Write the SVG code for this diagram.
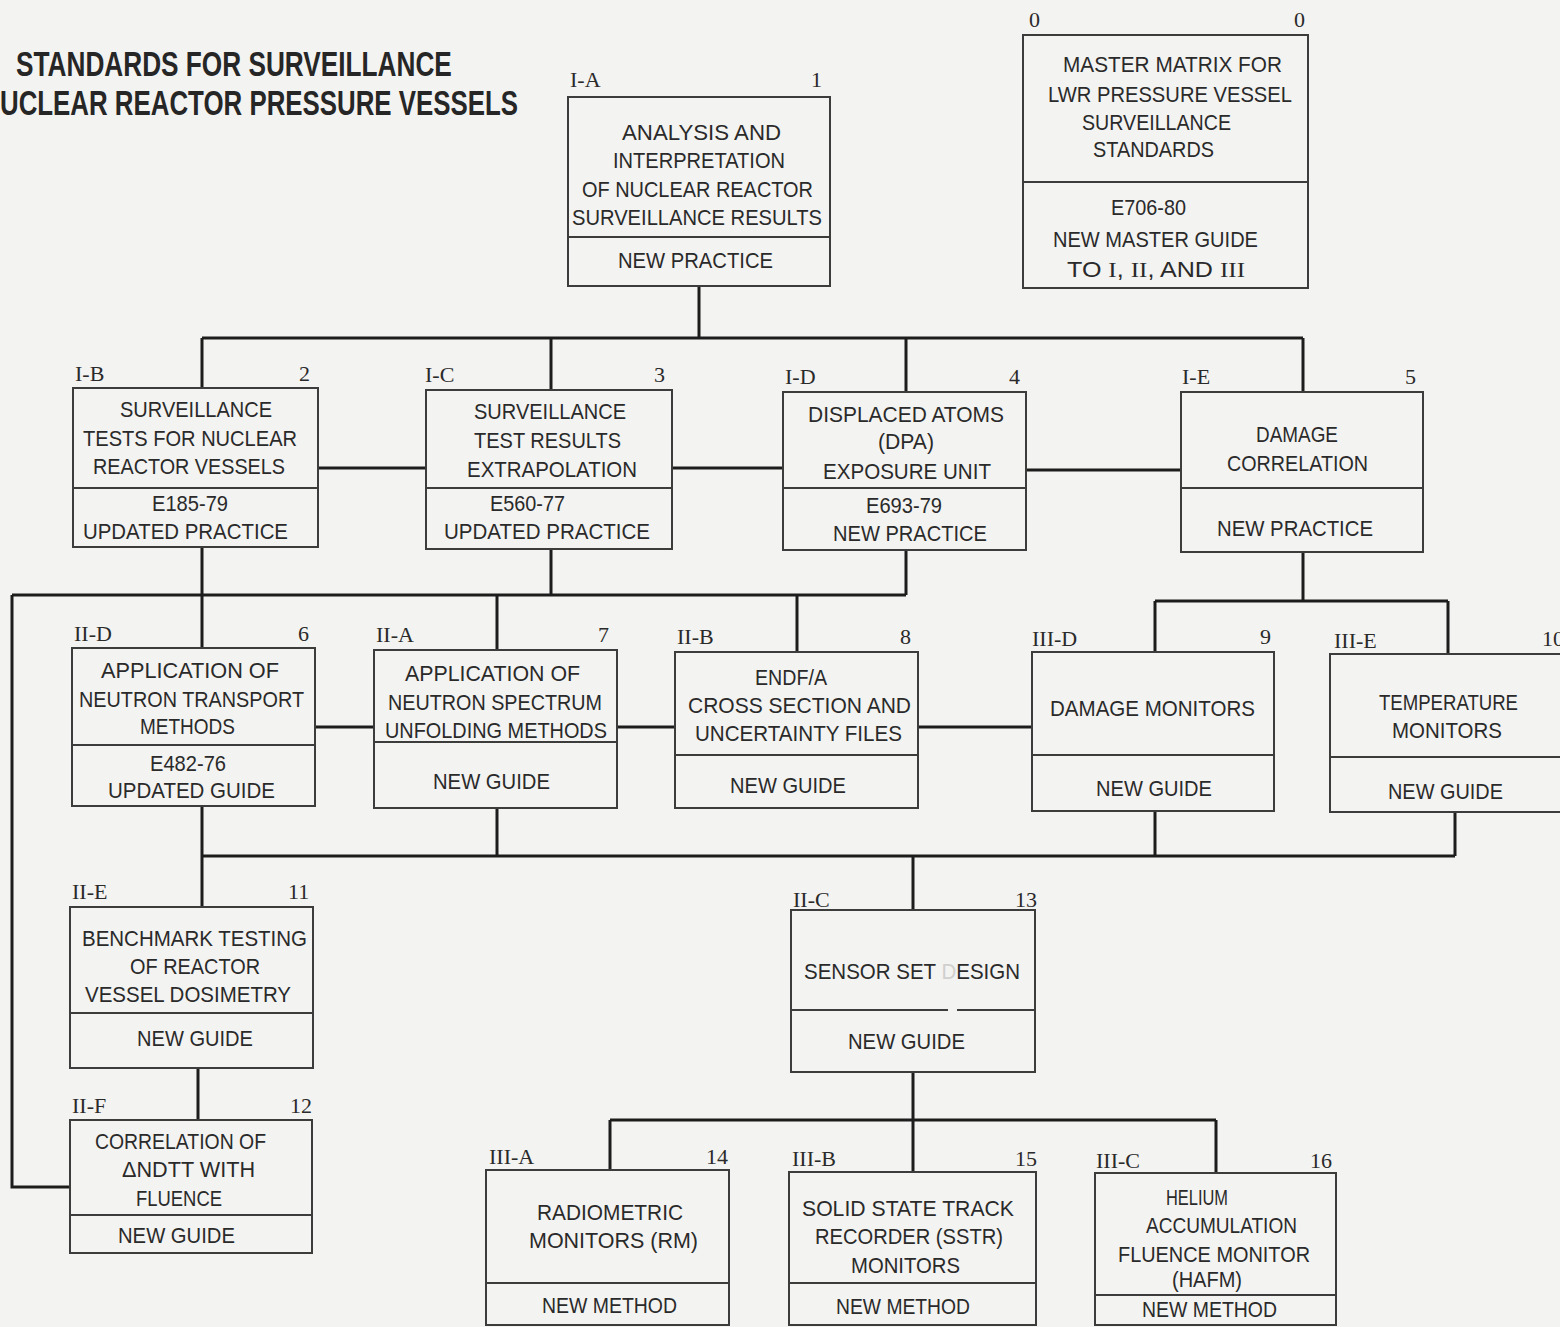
<svg xmlns="http://www.w3.org/2000/svg" width="1560" height="1327" viewBox="0 0 1560 1327">
<style>
.bg{fill:#f3f3f1}
.box{fill:none;stroke:#3c3c3c;stroke-width:2}
.conn{fill:none;stroke:#1c1c1c;stroke-width:3}
.t{font-family:"Liberation Sans",Arial,sans-serif;font-size:22px;fill:#2a2a2a}
.l{font-family:"Liberation Serif","Times New Roman",serif;font-size:22px;fill:#2a2a2a}
.ttl{font-family:"Liberation Sans",Arial,sans-serif;font-size:35px;font-weight:bold;fill:#262626}
</style>
<rect class="bg" x="0" y="0" width="1560" height="1327"/>

<g id="title">
<text class="ttl" transform="scale(0.74,1)" x="21.6" y="76" textLength="589" lengthAdjust="spacingAndGlyphs">STANDARDS FOR SURVEILLANCE</text>
<text class="ttl" transform="scale(0.74,1)" x="0" y="115" textLength="700" lengthAdjust="spacingAndGlyphs">UCLEAR REACTOR PRESSURE VESSELS</text>
</g>

<g id="connectors">
<path class="conn" d="M699,286 V338 M202,338 H1303 M202,338 V388 M551,338 V390 M906,338 V392 M1303,338 V392"/>
<path class="conn" d="M318,468 H426 M672,468 H783 M1026,470 H1181"/>
<path class="conn" d="M202,547 V648 M12,595 H906 M906,550 V595 M551,549 V595 M497,595 V650 M797,595 V652 M12,595 V1187 H70"/>
<path class="conn" d="M1303,552 V601 M1155,601 H1448 M1155,601 V652 M1448,601 V654"/>
<path class="conn" d="M315,727 H374 M617,727 H675 M918,727 H1032"/>
<path class="conn" d="M202,806 V907 M202,856 H1455 M497,808 V856 M1155,811 V856 M1455,812 V856 M913,856 V910"/>
<path class="conn" d="M198,1068 V1120 M913,1072 V1120 M610,1120 H1216 M610,1120 V1170 M913,1120 V1172 M1216,1120 V1173"/>
</g>

<g id="node-0">
<rect class="box" x="1023" y="35" width="285" height="253"/>
<line class="box" x1="1023" y1="182" x2="1308" y2="182"/>
<text class="l" x="1029" y="27">0</text>
<text class="l" x="1294" y="27">0</text>
<text class="t" x="1063" y="72" textLength="219" lengthAdjust="spacingAndGlyphs">MASTER MATRIX FOR</text>
<text class="t" x="1048" y="102" textLength="244" lengthAdjust="spacingAndGlyphs">LWR PRESSURE VESSEL</text>
<text class="t" x="1082" y="130" textLength="149" lengthAdjust="spacingAndGlyphs">SURVEILLANCE</text>
<text class="t" x="1093" y="157" textLength="121" lengthAdjust="spacingAndGlyphs">STANDARDS</text>
<text class="t" x="1111" y="215" textLength="75" lengthAdjust="spacingAndGlyphs">E706-80</text>
<text class="t" x="1053" y="247" textLength="205" lengthAdjust="spacingAndGlyphs">NEW MASTER GUIDE</text>
<text class="t" x="1067" y="277" textLength="178" lengthAdjust="spacingAndGlyphs">TO <tspan class="l">I</tspan>, <tspan class="l">II</tspan>, AND <tspan class="l">III</tspan></text>
</g>

<g id="node-1">
<rect class="box" x="568" y="97" width="262" height="189"/>
<line class="box" x1="568" y1="237" x2="830" y2="237"/>
<text class="l" x="570" y="87">I-A</text>
<text class="l" x="811" y="87">1</text>
<text class="t" x="622" y="140" textLength="159" lengthAdjust="spacingAndGlyphs">ANALYSIS AND</text>
<text class="t" x="613" y="168" textLength="172" lengthAdjust="spacingAndGlyphs">INTERPRETATION</text>
<text class="t" x="582" y="197" textLength="231" lengthAdjust="spacingAndGlyphs">OF NUCLEAR REACTOR</text>
<text class="t" x="572" y="225" textLength="250" lengthAdjust="spacingAndGlyphs">SURVEILLANCE RESULTS</text>
<text class="t" x="618" y="268" textLength="155" lengthAdjust="spacingAndGlyphs">NEW PRACTICE</text>
</g>

<g id="node-2">
<rect class="box" x="73" y="388" width="245" height="159"/>
<line class="box" x1="73" y1="488" x2="318" y2="488"/>
<text class="l" x="75" y="381">I-B</text>
<text class="l" x="299" y="381">2</text>
<text class="t" x="120" y="417" textLength="152" lengthAdjust="spacingAndGlyphs">SURVEILLANCE</text>
<text class="t" x="83" y="446" textLength="214" lengthAdjust="spacingAndGlyphs">TESTS FOR NUCLEAR</text>
<text class="t" x="93" y="474" textLength="192" lengthAdjust="spacingAndGlyphs">REACTOR VESSELS</text>
<text class="t" x="152" y="511" textLength="76" lengthAdjust="spacingAndGlyphs">E185-79</text>
<text class="t" x="83" y="539" textLength="205" lengthAdjust="spacingAndGlyphs">UPDATED PRACTICE</text>
</g>

<g id="node-3">
<rect class="box" x="426" y="390" width="246" height="159"/>
<line class="box" x1="426" y1="488" x2="672" y2="488"/>
<text class="l" x="425" y="382">I-C</text>
<text class="l" x="654" y="382">3</text>
<text class="t" x="474" y="419" textLength="152" lengthAdjust="spacingAndGlyphs">SURVEILLANCE</text>
<text class="t" x="474" y="448" textLength="147" lengthAdjust="spacingAndGlyphs">TEST RESULTS</text>
<text class="t" x="467" y="477" textLength="170" lengthAdjust="spacingAndGlyphs">EXTRAPOLATION</text>
<text class="t" x="490" y="511" textLength="75" lengthAdjust="spacingAndGlyphs">E560-77</text>
<text class="t" x="444" y="539" textLength="206" lengthAdjust="spacingAndGlyphs">UPDATED PRACTICE</text>
</g>

<g id="node-4">
<rect class="box" x="783" y="392" width="243" height="158"/>
<line class="box" x1="783" y1="488" x2="1026" y2="488"/>
<text class="l" x="785" y="384">I-D</text>
<text class="l" x="1009" y="384">4</text>
<text class="t" x="808" y="422" textLength="196" lengthAdjust="spacingAndGlyphs">DISPLACED ATOMS</text>
<text class="t" x="878" y="449" textLength="56" lengthAdjust="spacingAndGlyphs">(DPA)</text>
<text class="t" x="823" y="479" textLength="168" lengthAdjust="spacingAndGlyphs">EXPOSURE UNIT</text>
<text class="t" x="866" y="513" textLength="76" lengthAdjust="spacingAndGlyphs">E693-79</text>
<text class="t" x="833" y="541" textLength="154" lengthAdjust="spacingAndGlyphs">NEW PRACTICE</text>
</g>

<g id="node-5">
<rect class="box" x="1181" y="392" width="242" height="160"/>
<line class="box" x1="1181" y1="488" x2="1423" y2="488"/>
<text class="l" x="1182" y="384">I-E</text>
<text class="l" x="1405" y="384">5</text>
<text class="t" x="1256" y="442" textLength="82" lengthAdjust="spacingAndGlyphs">DAMAGE</text>
<text class="t" x="1227" y="471" textLength="141" lengthAdjust="spacingAndGlyphs">CORRELATION</text>
<text class="t" x="1217" y="536" textLength="156" lengthAdjust="spacingAndGlyphs">NEW PRACTICE</text>
</g>

<g id="node-6">
<rect class="box" x="72" y="648" width="243" height="158"/>
<line class="box" x1="72" y1="745" x2="315" y2="745"/>
<text class="l" x="74" y="641">II-D</text>
<text class="l" x="298" y="641">6</text>
<text class="t" x="101" y="678" textLength="178" lengthAdjust="spacingAndGlyphs">APPLICATION OF</text>
<text class="t" x="79" y="707" textLength="225" lengthAdjust="spacingAndGlyphs">NEUTRON TRANSPORT</text>
<text class="t" x="140" y="734" textLength="95" lengthAdjust="spacingAndGlyphs">METHODS</text>
<text class="t" x="150" y="771" textLength="76" lengthAdjust="spacingAndGlyphs">E482-76</text>
<text class="t" x="108" y="798" textLength="167" lengthAdjust="spacingAndGlyphs">UPDATED GUIDE</text>
</g>

<g id="node-7">
<rect class="box" x="374" y="650" width="243" height="158"/>
<line class="box" x1="374" y1="742" x2="617" y2="742"/>
<text class="l" x="376" y="642">II-A</text>
<text class="l" x="598" y="642">7</text>
<text class="t" x="405" y="681" textLength="175" lengthAdjust="spacingAndGlyphs">APPLICATION OF</text>
<text class="t" x="388" y="710" textLength="214" lengthAdjust="spacingAndGlyphs">NEUTRON SPECTRUM</text>
<text class="t" x="385" y="738" textLength="222" lengthAdjust="spacingAndGlyphs">UNFOLDING METHODS</text>
<text class="t" x="433" y="789" textLength="117" lengthAdjust="spacingAndGlyphs">NEW GUIDE</text>
</g>

<g id="node-8">
<rect class="box" x="675" y="652" width="243" height="156"/>
<line class="box" x1="675" y1="755" x2="918" y2="755"/>
<text class="l" x="677" y="644">II-B</text>
<text class="l" x="900" y="644">8</text>
<text class="t" x="755" y="685" textLength="72" lengthAdjust="spacingAndGlyphs">ENDF/A</text>
<text class="t" x="688" y="713" textLength="223" lengthAdjust="spacingAndGlyphs">CROSS SECTION AND</text>
<text class="t" x="695" y="741" textLength="207" lengthAdjust="spacingAndGlyphs">UNCERTAINTY FILES</text>
<text class="t" x="730" y="793" textLength="116" lengthAdjust="spacingAndGlyphs">NEW GUIDE</text>
</g>

<g id="node-9">
<rect class="box" x="1032" y="652" width="242" height="159"/>
<line class="box" x1="1032" y1="755" x2="1274" y2="755"/>
<text class="l" x="1032" y="646">III-D</text>
<text class="l" x="1260" y="644">9</text>
<text class="t" x="1050" y="716" textLength="205" lengthAdjust="spacingAndGlyphs">DAMAGE MONITORS</text>
<text class="t" x="1096" y="796" textLength="116" lengthAdjust="spacingAndGlyphs">NEW GUIDE</text>
</g>

<g id="node-10">
<rect class="box" x="1330" y="654" width="242" height="158"/>
<line class="box" x1="1330" y1="757" x2="1572" y2="757"/>
<text class="l" x="1334" y="648">III-E</text>
<text class="l" x="1542" y="646">10</text>
<text class="t" x="1379" y="710" textLength="139" lengthAdjust="spacingAndGlyphs">TEMPERATURE</text>
<text class="t" x="1392" y="738" textLength="110" lengthAdjust="spacingAndGlyphs">MONITORS</text>
<text class="t" x="1388" y="799" textLength="115" lengthAdjust="spacingAndGlyphs">NEW GUIDE</text>
</g>

<g id="node-11">
<rect class="box" x="70" y="907" width="243" height="161"/>
<line class="box" x1="70" y1="1013" x2="313" y2="1013"/>
<text class="l" x="72" y="899">II-E</text>
<text class="l" x="288" y="899">11</text>
<text class="t" x="82" y="946" textLength="225" lengthAdjust="spacingAndGlyphs">BENCHMARK TESTING</text>
<text class="t" x="130" y="974" textLength="130" lengthAdjust="spacingAndGlyphs">OF REACTOR</text>
<text class="t" x="85" y="1002" textLength="206" lengthAdjust="spacingAndGlyphs">VESSEL DOSIMETRY</text>
<text class="t" x="137" y="1046" textLength="116" lengthAdjust="spacingAndGlyphs">NEW GUIDE</text>
</g>

<g id="node-12">
<rect class="box" x="70" y="1120" width="242" height="133"/>
<line class="box" x1="70" y1="1215" x2="312" y2="1215"/>
<text class="l" x="72" y="1113">II-F</text>
<text class="l" x="290" y="1113">12</text>
<text class="t" x="95" y="1149" textLength="171" lengthAdjust="spacingAndGlyphs">CORRELATION OF</text>
<text class="t" x="122" y="1177" textLength="133" lengthAdjust="spacingAndGlyphs">ΔNDTT WITH</text>
<text class="t" x="136" y="1206" textLength="86" lengthAdjust="spacingAndGlyphs">FLUENCE</text>
<text class="t" x="118" y="1243" textLength="117" lengthAdjust="spacingAndGlyphs">NEW GUIDE</text>
</g>

<g id="node-13">
<rect class="box" x="791" y="910" width="244" height="162"/>
<path class="box" d="M791,1010 H948 M957,1010 H1035"/>
<text class="l" x="793" y="907">II-C</text>
<text class="l" x="1015" y="907">13</text>
<text class="t" x="804" y="979" textLength="216" lengthAdjust="spacingAndGlyphs">SENSOR SET <tspan fill="#d0d0ce">D</tspan>ESIGN</text>
<text class="t" x="848" y="1049" textLength="117" lengthAdjust="spacingAndGlyphs">NEW GUIDE</text>
</g>

<g id="node-14">
<rect class="box" x="486" y="1170" width="243" height="155"/>
<line class="box" x1="486" y1="1283" x2="729" y2="1283"/>
<text class="l" x="489" y="1164">III-A</text>
<text class="l" x="706" y="1164">14</text>
<text class="t" x="537" y="1220" textLength="146" lengthAdjust="spacingAndGlyphs">RADIOMETRIC</text>
<text class="t" x="529" y="1248" textLength="169" lengthAdjust="spacingAndGlyphs">MONITORS (RM)</text>
<text class="t" x="542" y="1313" textLength="135" lengthAdjust="spacingAndGlyphs">NEW METHOD</text>
</g>

<g id="node-15">
<rect class="box" x="789" y="1172" width="247" height="153"/>
<line class="box" x1="789" y1="1283" x2="1036" y2="1283"/>
<text class="l" x="792" y="1166">III-B</text>
<text class="l" x="1015" y="1166">15</text>
<text class="t" x="802" y="1216" textLength="212" lengthAdjust="spacingAndGlyphs">SOLID STATE TRACK</text>
<text class="t" x="815" y="1244" textLength="188" lengthAdjust="spacingAndGlyphs">RECORDER (SSTR)</text>
<text class="t" x="851" y="1273" textLength="109" lengthAdjust="spacingAndGlyphs">MONITORS</text>
<text class="t" x="836" y="1314" textLength="134" lengthAdjust="spacingAndGlyphs">NEW METHOD</text>
</g>

<g id="node-16">
<rect class="box" x="1095" y="1173" width="241" height="152"/>
<line class="box" x1="1095" y1="1295" x2="1336" y2="1295"/>
<text class="l" x="1096" y="1168">III-C</text>
<text class="l" x="1310" y="1168">16</text>
<text class="t" x="1166" y="1205" textLength="62" lengthAdjust="spacingAndGlyphs">HELIUM</text>
<text class="t" x="1146" y="1233" textLength="151" lengthAdjust="spacingAndGlyphs">ACCUMULATION</text>
<text class="t" x="1118" y="1262" textLength="192" lengthAdjust="spacingAndGlyphs">FLUENCE MONITOR</text>
<text class="t" x="1172" y="1287" textLength="70" lengthAdjust="spacingAndGlyphs">(HAFM)</text>
<text class="t" x="1142" y="1317" textLength="135" lengthAdjust="spacingAndGlyphs">NEW METHOD</text>
</g>
</svg>
